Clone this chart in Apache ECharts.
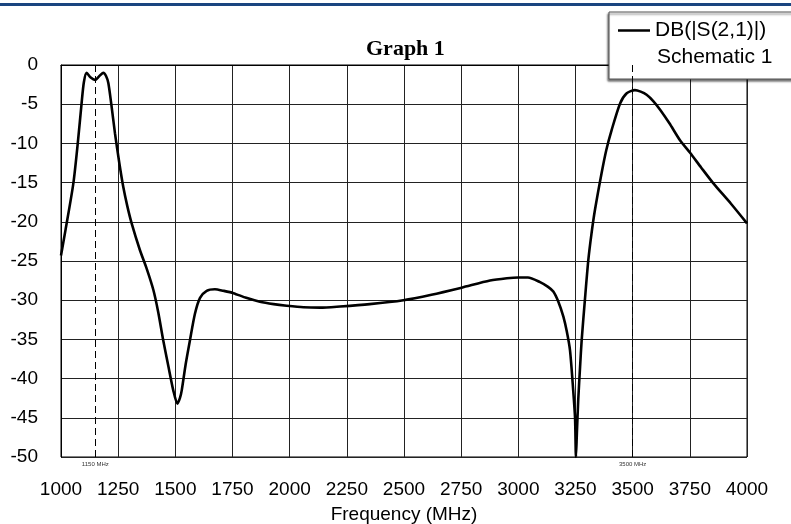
<!DOCTYPE html>
<html>
<head>
<meta charset="utf-8">
<script src="https://cdn.jsdelivr.net/npm/echarts@6/dist/echarts.min.js"></script>
<style>
  html, body { margin: 0; padding: 0; background: #fff; }
  #main { width: 791px; height: 524px; }
</style>
</head>
<body>
<div id="main"></div>
<script>
// frequency points (MHz)
var freqMHz = [1000, 1020, 1054, 1075, 1090, 1100, 1112, 1130, 1149, 1165, 1185, 1197, 1207, 1220, 1236,
  1255, 1272, 1290, 1309, 1345, 1375, 1404, 1425, 1447, 1470, 1491, 1509, 1520, 1528, 1545, 1564,
  1586, 1608, 1637, 1673, 1710, 1754, 1810, 1870, 1930, 1987, 2060, 2133, 2220, 2350, 2497, 2620,
  2752, 2876, 2950, 3000, 3042, 3095, 3130, 3153, 3175, 3197, 3212, 3226, 3240, 3248, 3252, 3256,
  3262, 3270, 3277, 3291, 3306, 3320, 3335, 3364, 3385, 3408, 3445, 3474, 3510, 3535, 3561, 3590,
  3620, 3660, 3707, 3751, 3800, 3853, 3930, 4000];
// DB(|S(2,1)|) in dB
var s21dB = [-24.3, -21, -15.1, -9.5, -4.9, -2.2, -1.0, -1.6, -1.9, -1.5, -1.0, -1.4, -2.3, -5, -8.7,
  -12.5, -15.5, -18, -20.2, -23.6, -26, -28.7, -31.5, -35.1, -38.5, -41.5, -43.2, -42.5, -41.5, -38.2, -35.1,
  -31.7, -29.7, -28.8, -28.6, -28.8, -29.1, -29.7, -30.2, -30.5, -30.7, -30.9, -30.95, -30.8, -30.5, -30.0, -29.3,
  -28.4, -27.5, -27.2, -27.1, -27.1, -27.7, -28.3, -28.9, -30.2, -32.1, -34, -36.4, -41.5, -45, -50, -47,
  -42.7, -38.5, -35.1, -30, -24.9, -21.5, -18.5, -13.8, -10.8, -8.3, -4.9, -3.6, -3.2, -3.4, -3.8, -4.6,
  -5.7, -7.4, -9.6, -11.2, -13.1, -15.1, -17.7, -20.2];
var markerFreqs = [1150, 3500];
var seriesName = 'DB(|S(2,1)|)';
var sourceName = 'Schematic 1';

var points = [];
for (var i = 0; i < freqMHz.length; i++) {
  points.push([freqMHz[i], s21dB[i]]);
}

var chart = echarts.init(document.getElementById('main'), null, { renderer: 'canvas' });

var option = {
  animation: false,
  backgroundColor: '#fff',
  title: {
    text: 'Graph 1',
    left: 361,
    top: 33,
    textStyle: { fontFamily: 'Liberation Serif', fontWeight: 'bold', fontSize: 22, color: '#000' }
  },
  grid: {
    left: 61, right: 44, top: 65, bottom: 67,
    containLabel: false, outerBoundsMode: 'none',
    show: true, borderColor: '#000', borderWidth: 1
  },
  legend: {
    left: 609,
    top: 12,
    padding: [8, 60, 38, 9],
    backgroundColor: '#fff',
    borderColor: '#555',
    borderWidth: 1,
    shadowColor: 'rgba(0,0,0,0.55)',
    shadowBlur: 2,
    shadowOffsetX: -1,
    shadowOffsetY: 2,
    itemWidth: 32,
    itemHeight: 14,
    itemGap: 6,
    textStyle: { fontFamily: 'Liberation Sans', fontSize: 21, color: '#000' },
    data: [{ name: seriesName, icon: 'path://M0,6 L32,6 L32,8.5 L0,8.5 Z', itemStyle: { color: '#000' } }]
  },
  graphic: [
    { type: 'rect', left: 0, top: 3, shape: { width: 791, height: 3 }, style: { fill: '#1a4580' }, z: 10 },
    { type: 'text', left: 657, top: 47, z: 100,
      style: { text: sourceName, fontFamily: 'Liberation Sans', fontSize: 21, fill: '#000' } }
  ],
  xAxis: {
    type: 'value',
    min: 1000,
    max: 4000,
    interval: 250,
    name: 'Frequency (MHz)',
    nameLocation: 'middle',
    nameGap: 48,
    nameTextStyle: { fontFamily: 'Liberation Sans', fontSize: 19, color: '#000' },
    axisLine: { lineStyle: { color: '#000', width: 1 } },
    axisTick: { show: false },
    axisLabel: {
      fontFamily: 'Liberation Sans', fontSize: 19, color: '#000', margin: 23,
      formatter: function (v) { return String(v); }
    },
    splitLine: { lineStyle: { color: '#222', width: 1 } }
  },
  yAxis: {
    type: 'value',
    min: -50,
    max: 0,
    interval: 5,
    axisLine: { show: true, lineStyle: { color: '#000', width: 1 } },
    axisTick: { show: false },
    axisLabel: { fontFamily: 'Liberation Sans', fontSize: 19, color: '#000', margin: 23,
      formatter: function (v) { return String(v); } },
    splitLine: { lineStyle: { color: '#222', width: 1 } }
  },
  series: [{
    name: seriesName,
    type: 'line',
    data: points,
    symbol: 'none',
    smooth: 0.25,
    clip: true,
    lineStyle: { color: '#000', width: 2.6 },
    itemStyle: { color: '#000' },
    markLine: {
      silent: true,
      symbol: 'none',
      lineStyle: { color: '#000', type: [7, 4], width: 1 },
      label: {
        position: 'start',
        distance: 4,
        formatter: function (p) { return p.value + ' MHz'; },
        fontFamily: 'Liberation Sans',
        fontSize: 6,
        color: '#333'
      },
      data: markerFreqs.map(function (f) { return { xAxis: f }; })
    }
  }]
};

chart.setOption(option);
</script>
</body>
</html>
